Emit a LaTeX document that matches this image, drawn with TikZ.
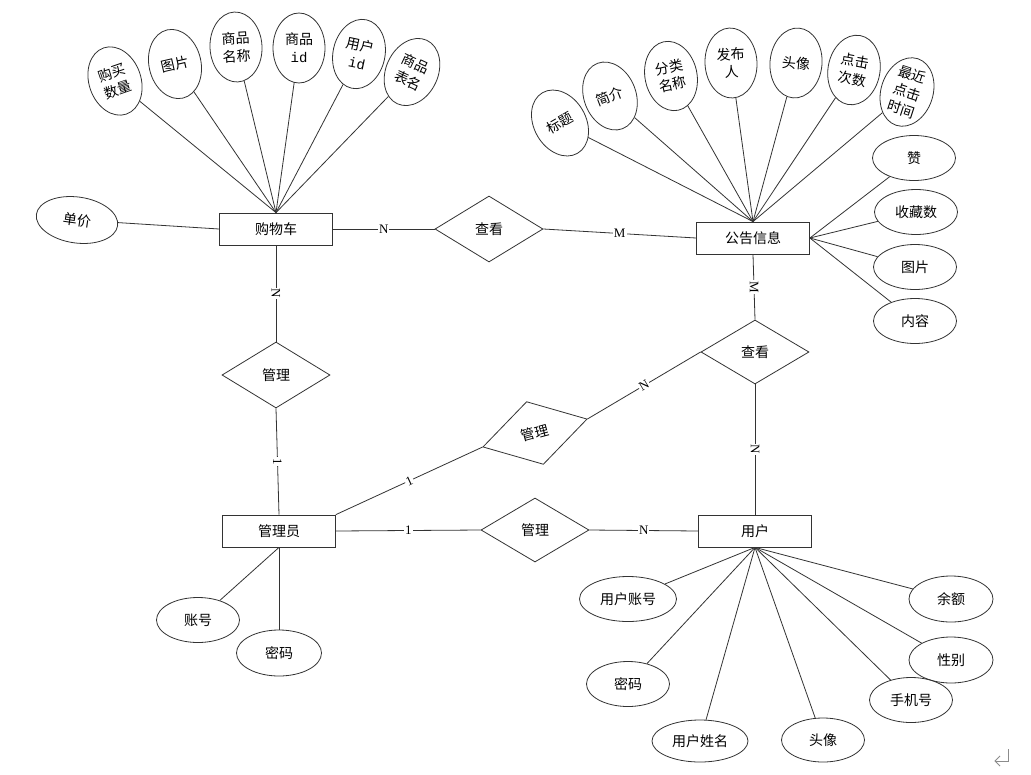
\documentclass[tikz,border=0pt]{standalone}
\usepackage{fontspec}
\newfontfamily\cjk{Noto Sans CJK SC}
\newfontfamily\lblfont{Liberation Serif}
\newfontfamily\monofont{Liberation Mono}
\usetikzlibrary{shapes.geometric}
\begin{document}
\begin{tikzpicture}[x=1pt,y=-1pt,
  every node/.style={font=\cjk\fontsize{14}{18}\selectfont},
  ln/.style={draw=black!80,line width=0.8pt},
  entity/.style={draw=black!80,line width=0.8pt,rectangle,minimum width=113pt,minimum height=32pt,inner sep=0pt},
  rel/.style={draw=black!80,line width=0.8pt,diamond,minimum width=108pt,minimum height=65pt,inner sep=0pt},
  vattr/.style={draw=black!80,line width=0.8pt,ellipse,minimum width=52pt,minimum height=70pt,inner sep=0pt,align=center},
  hattr/.style={draw=black!80,line width=0.8pt,ellipse,minimum width=83pt,minimum height=45pt,inner sep=0pt,align=center},
  card/.style={fill=white,inner sep=1pt,font=\lblfont\fontsize{13}{13}\selectfont}
]
\useasboundingbox (0,0) rectangle (1031,774);
\fill[white] (0,0) rectangle (1031,774);

% entities
\node[entity] (cart) at (276,229) {购物车};
\node[entity] (notice) at (753,238) {公告信息};
\node[entity] (admin) at (279,531) {管理员};
\node[entity] (user) at (755,531) {用户};

% relationships
\node[rel,minimum height=66pt] (r1) at (489,229) {查看};
\node[rel,minimum height=66pt] (r2) at (276,375) {管理};
\node[rel,minimum height=64pt] (r3) at (755,352) {查看};
\node[rel,rotate=15] (r4) at (535,433) {管理};
\node[rel,minimum height=64pt] (r5) at (535,530) {管理};

% cart attributes
\node[vattr,rotate=19] (a1) at (115,81) {购买\\数量};
\node[vattr,rotate=13] (a2) at (175,64) {图片};
\node[vattr,rotate=3] (a3) at (236,47) {商品\\名称};
\node[vattr] (a4) at (299,48) {商品\\{\monofont id}};
\node[vattr,rotate=-12] (a5) at (359,54) {用户\\{\monofont id}};
\node[vattr,rotate=-25] (a6) at (412,72) {商品\\表名};
\node[hattr,minimum width=82pt,minimum height=46pt,rotate=-8] (a7) at (77,220) {单价};
\foreach \n in {a1,a2,a3,a4,a5,a6} \draw[ln] (\n) -- (cart.north);
\draw[ln] (a7) -- (cart.west);

% notice attributes
\node[vattr,rotate=30] (b1) at (560,123) {标题};
\node[vattr,rotate=21] (b2) at (610,96) {简介};
\node[vattr,rotate=12] (b3) at (671,76) {分类\\名称};
\node[vattr,rotate=3] (b4) at (731,63) {发布\\人};
\node[vattr,rotate=-5] (b5) at (796,63) {头像};
\node[vattr,rotate=-10] (b6) at (854,70) {点击\\次数};
\node[vattr,rotate=-18] (b7) at (907,92) {最近\\点击\\时间};
\foreach \n in {b1,b2,b3,b4,b5,b6,b7} \draw[ln] (\n) -- (notice.north);
\node[hattr] (c1) at (914,158) {赞};
\node[hattr] (c2) at (916,212) {收藏数};
\node[hattr] (c3) at (915,267) {图片};
\node[hattr] (c4) at (915,321) {内容};
\foreach \n in {c1,c2,c3,c4} \draw[ln] (\n) -- (notice.east);

% user attributes
\node[hattr,minimum width=97pt] (d1) at (628,599) {用户账号};
\node[hattr] (d2) at (628,684) {密码};
\node[hattr,minimum width=96pt,minimum height=42pt] (d3) at (700,741) {用户姓名};
\node[hattr,minimum height=44pt] (d4) at (823,740) {头像};
\node[hattr] (d5) at (911,700) {手机号};
\node[hattr,minimum width=84pt,minimum height=46pt] (d6) at (951,660) {性别};
\node[hattr,minimum width=84pt,minimum height=46pt] (d7) at (951,599) {余额};
\foreach \n in {d1,d2,d3,d4,d5,d6,d7} \draw[ln] (\n) -- (user.south);

% admin attributes
\node[hattr] (e1) at (198,620) {账号};
\node[hattr,minimum width=85pt,minimum height=46pt] (e2) at (279,653) {密码};
\foreach \n in {e1,e2} \draw[ln] (\n) -- (admin.south);

% relationship connectors
\draw[ln] (cart.east) -- node[card] {N} (r1.west);
\draw[ln] (r1.east) -- node[card] {M} (notice.west);
\draw[ln] (cart.south) -- node[card,rotate=-90] {N} (r2.north);
\draw[ln] (r2.south) -- node[card,rotate=-90] {1} (admin.north);
\draw[ln] (admin.north east) -- node[card,sloped] {1} (r4.west);
\draw[ln] (r4.east) -- node[card,sloped] {N} (r3.west);
\draw[ln] (notice.south) -- node[card,rotate=-90] {M} (r3.north);
\draw[ln] (r3.south) -- node[card,rotate=-90] {N} (user.north);
\draw[ln] (admin.east) -- node[card] {1} (r5.west);
\draw[ln] (r5.east) -- node[card] {N} (user.west);

% paragraph mark
\coordinate (pm1) at (1008,749);
\coordinate (pm2) at (1008,761);
\coordinate (pm3) at (995,761);
\draw[black!45,line width=0.8pt] (pm1) -- (pm2) -- (pm3);
\draw[black!45,line width=0.8pt] (1000,756) -- (pm3) -- (1000,766);
\end{tikzpicture}
\end{document}
